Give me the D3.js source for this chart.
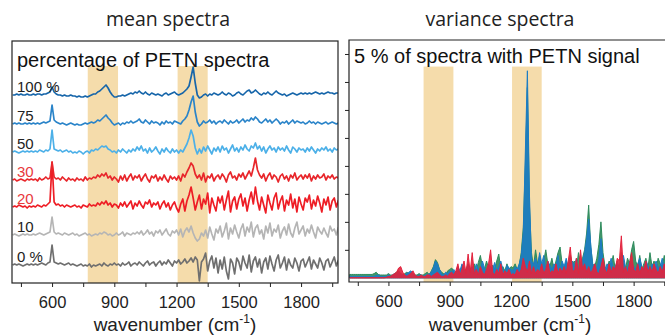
<!DOCTYPE html>
<html><head><meta charset="utf-8">
<script src="https://cdn.jsdelivr.net/npm/d3@7"></script>
<style>html,body{margin:0;padding:0;background:#fff;overflow:hidden}</style>
</head><body><svg id="chart" width="665" height="336"></svg>
<script>
// Raman wavenumber grid (cm-1), one sample every 10 cm-1
const wavenumbers = d3.range(410, 1981, 10);

// Mean spectra (intensity, arbitrary units) for each PETN percentage
const mean100 = [
  0,0,1,0,1,0,0,1,0,0,  1,0,1,1,0,1,1,2,3,8,  3,1,0,0,-1,0,-1,-1,0,-1,  -1,-2,-1,-2,-2,-1,-2,-1,0,1,
  1,3,4,6,8,10,7,3,0,-2,  -2,-1,-1,0,-1,0,1,2,1,3,  2,4,2,1,3,1,0,2,1,0,  1,0,-1,1,2,0,1,2,3,1,
  0,1,2,4,6,9,18,28,12,0,  -3,-2,0,1,-1,1,0,2,1,0,  1,3,1,0,2,1,-1,0,2,3,  1,0,2,4,5,2,3,5,3,1,
  0,2,1,3,1,0,2,4,2,1,  0,1,-1,0,1,2,1,0,1,2,  1,2,1,2,1,2,3,2,1,2,  1,2,3,2,2,1,2,2];
const mean75 = [
  0,1,0,1,0,0,1,0,1,0,  1,0,1,0,1,2,1,2,3,19,  4,2,1,0,1,0,-1,0,1,0,  -1,0,-1,-1,0,1,0,1,2,1,
  2,4,3,5,7,9,6,4,1,-1,  0,1,-1,1,0,2,1,3,1,2,  3,5,2,1,4,2,0,3,1,2,  1,-1,2,0,3,1,2,0,3,2,
  1,0,3,5,8,14,22,28,12,2,  -2,0,3,1,2,4,1,3,0,2,  3,1,4,2,0,3,1,2,4,1,  3,5,2,4,3,6,4,7,5,2,
  1,3,5,2,4,1,3,5,3,0,  2,1,3,0,2,4,1,3,2,1,  2,0,1,3,1,2,0,2,1,0,  1,2,0,1,2,1,0,1];
const mean50 = [
  0,1,0,-1,0,1,0,1,0,1,  0,1,0,2,1,0,2,1,3,22,  3,2,1,2,0,1,2,0,1,-1,  0,-1,1,0,-2,0,1,-1,2,1,
  3,2,4,6,5,6,3,2,0,1,  -1,2,0,3,1,-1,2,0,3,1,  5,2,6,1,3,-1,4,0,2,5,  1,-2,3,0,4,1,-1,3,0,2,
  -1,2,0,4,8,14,22,16,4,-2,  3,-1,5,1,6,2,-2,4,1,5,  0,6,2,4,-1,3,7,1,4,0,  5,2,7,3,1,6,4,9,3,6,
  1,5,-1,3,6,2,4,0,5,2,  4,1,6,2,-1,5,3,0,4,2,  3,0,4,1,5,2,-1,3,1,4,  2,5,1,3,0,4,2,3];
const mean30 = [
  0,1,-1,0,1,0,-1,1,0,1,  0,1,-1,2,0,1,3,1,2,18,  3,1,2,0,3,1,-1,2,0,1,  -1,2,0,1,-1,3,0,2,1,3,
  2,5,3,6,4,7,2,4,0,3,  1,-2,4,0,5,-1,3,6,0,4,  2,5,-1,3,6,1,-2,4,2,5,  -1,3,0,5,1,-2,4,1,3,0,
  4,-1,6,3,8,12,17,14,6,2,  5,0,7,-2,4,2,6,-1,3,5,  1,6,3,-2,5,8,2,4,0,6,  3,7,1,5,9,4,12,22,10,5,
  2,6,-1,4,7,1,5,3,-2,4,  6,1,4,-1,5,2,7,0,3,5,  1,5,2,6,-1,4,1,5,2,3,  6,0,4,2,5,1,3,2];
const mean20 = [
  0,1,0,2,1,0,1,-1,1,0,  1,0,2,1,0,2,1,3,5,45,  5,2,3,1,2,0,2,1,0,1,  2,0,1,-1,2,1,0,3,1,2,
  1,4,2,5,3,6,2,4,0,3,  2,-1,4,1,5,0,3,6,-2,4,  1,6,2,-1,5,3,7,0,4,2,  5,-2,3,6,0,4,-3,2,5,-1,
  -5,3,8,-4,6,12,20,9,-3,5,  12,-2,8,3,14,-6,9,2,-4,10,  4,11,-3,7,16,-5,6,10,-2,8,  13,1,9,-4,7,15,3,20,6,-3,
  10,2,-6,12,4,-3,9,14,-2,6,  11,-4,7,2,13,-1,8,-5,10,3,  -3,9,5,12,-2,7,1,11,4,-5,  8,2,10,-3,6,9,0,7];
const mean10 = [
  0,1,0,-1,0,1,0,1,0,0,  1,0,1,2,1,0,1,2,3,18,  3,1,2,1,0,2,1,0,1,2,  0,1,-1,0,1,2,0,1,-1,0,
  1,0,2,1,3,2,0,1,-1,0,  2,0,1,3,-1,2,1,0,2,1,  3,1,4,0,2,5,1,3,-1,4,  2,5,0,3,6,1,-1,4,2,5,
  0,6,-2,4,7,3,9,2,-3,-6,  -4,2,-1,5,-3,8,1,-5,6,2,  9,-2,4,12,-4,7,1,10,3,-3,  6,11,-1,8,3,13,-2,7,10,1,
  5,-4,9,2,12,-1,6,3,10,-3,  4,8,0,11,2,-2,7,13,1,5,  9,-1,6,2,10,3,-3,8,4,1,  7,2,-2,9,4,6,0,8];
const mean0 = [
  0,1,0,1,0,-1,0,1,0,1,  0,1,0,1,2,1,0,2,3,20,  3,2,1,2,1,0,1,2,0,1,  0,-1,0,1,-1,0,-1,1,-2,0,
  -1,0,1,-1,2,0,-1,1,0,2,  0,1,-1,2,0,1,3,-1,1,2,  0,3,1,-1,2,4,0,2,3,-1,  2,4,0,3,1,5,2,-1,4,2,
  5,1,3,6,2,4,7,3,8,5,  -16,3,6,12,-6,4,9,-3,7,-8,  5,-4,8,-6,-14,6,2,-9,7,3,  -5,9,2,-3,10,-7,4,8,-2,6,
  -8,3,7,-4,9,1,-6,5,10,-3,  2,8,-5,6,0,-3,7,2,-6,4,  6,-2,3,8,-4,5,1,-3,7,2,  -5,4,6,-2,3,8,-1,5];

const meanSeries = [mean100, mean75, mean50, mean30, mean20, mean10, mean0];
const meanLabels = ["100 %", "75", "50", "30", "20", "10", "0 %"];
// vertical stacking offset of each mean spectrum
const meanOffsets = [188, 159, 131, 103, 76, 48, 18];
const meanColors = ["#1766aa", "#2a84c9", "#4cb0e8", "#e8262b", "#ee1d25", "#b5b5b5", "#6f6f6f"];
const meanLabelColors = ["#222", "#222", "#222", "#e8383d", "#e8383d", "#222", "#222"];

// Variance spectra (arbitrary units), three principal traces
const varGreen = [
  .12,.12,.12,.12,.12,.12,.12,.12,.12,.12,  .12,.12,.15,.2,.12,.1,.1,.1,.1,.15,  .1,.1,.15,.2,.25,.15,.1,.15,.2,.15,  .2,.1,.1,.1,.15,.1,.1,.15,.2,.1,
  .25,.4,.65,.55,.3,.2,.15,.1,.25,.3,  .35,.2,.15,.3,.2,.4,.25,.3,.5,.2,  .3,.5,.25,.55,.8,.4,.3,.6,.35,.25,  .45,.3,.6,.85,.3,.4,.25,.5,.3,.4,
  .35,.5,.3,.45,.9,1.8,4.0,6.8,2.6,.9,  .4,1.0,.5,.8,.35,.6,1.0,.5,.4,.7,  .3,.6,.9,1.1,.5,.3,.6,.4,.8,.5,  .6,.3,.9,.5,.7,1.0,1.6,2.6,1.1,.5,
  .4,.7,1.2,2.0,.9,.4,.3,.6,.45,.8,  .3,.5,.4,.9,.6,.3,.7,.5,1.0,1.3,  .6,.4,.8,.3,.5,.7,.35,.9,.4,.6,  .3,.7,.5,.4,.8,.35,.6,.5];
const varBlue = [
  .05,.05,.05,.05,.05,.05,.05,.05,.05,.05,  .05,.05,.05,.08,.1,.05,.05,.05,.05,.1,  .05,.1,.15,.1,.2,.15,.1,.1,.15,.2,  .25,.15,.1,.05,.1,.1,.05,.1,.1,.15,
  .2,.35,.6,.5,.3,.15,.1,.2,.15,.25,  .2,.3,.15,.4,.25,.5,.3,.2,.45,.3,  .4,.2,.5,.3,.25,.6,.35,.2,.5,.4,  .3,.55,.25,.4,.6,.3,.2,.45,.35,.3,
  .25,.4,.3,.5,.8,1.6,4.5,7.4,3.0,.6,  .5,.7,.4,.9,.5,.8,.3,.6,.45,.3,  .5,.4,.8,.3,.6,.4,.7,.35,.5,.6,  .4,.7,.3,.5,.6,.9,1.4,2.1,1.2,.4,
  .5,.3,.7,1.4,.6,.3,.5,.4,.7,.35,  .4,.6,.3,.5,.8,.4,.3,.6,.5,.4,  .3,.5,.7,.4,.3,.6,.45,.3,.5,.4,  .6,.35,.4,.7,.3,.5,.6,.4];
const varRed = [
  0,0,0,0,0,0,0,0,0,0,  0,0,0,0,0,0,0,0,.02,.05,  .05,.1,.15,.2,.35,.4,.2,.1,.05,.1,  .15,.25,.1,.05,.05,.1,.05,.05,.1,.1,
  .05,.1,.15,.2,.1,.05,.05,.1,.05,.15,  .2,.1,.25,.5,.1,.3,.6,.15,.85,.2,  .9,.15,.3,.1,.4,.2,.1,.3,.5,1.0,  .2,.1,.3,.15,.5,.1,.25,.15,.3,.1,
  .15,.1,.3,.15,.3,.7,.4,.2,.6,.15,  .4,.15,.3,.2,.5,.15,.3,.6,.15,.25,  .2,.5,.15,.35,.2,.4,.15,.6,1.1,.3,  .2,.7,.15,1.0,.3,.5,.2,.4,.15,.3,
  .5,.2,.15,.4,.7,.3,.15,.5,.2,.4,  .3,.7,.6,1.5,.2,.4,.15,.5,.9,.3,  .2,.5,.15,.4,.3,.6,.2,.4,.2,.5,  .3,.15,.4,.2,.5,.15,.3,.2];
const varSeries = [varGreen, varBlue, varRed];
const varColors = ["#2e8b5c", "#1c7cc4", "#e2233d"];

// Highlighted PETN band regions (cm-1)
const petnBands = [[772, 918], [1205, 1350]];
const majorTicks = [600, 900, 1200, 1500, 1800];
const minorTicks = [450, 750, 1050, 1350, 1650, 1950];
const xDomain = [407, 1978];

const svg = d3.select("#chart");
const sans = "'Liberation Sans', Arial, sans-serif";

function drawXAxis(g, x, bottom) {
  g.append("g").attr("transform", `translate(0,${bottom})`)
    .call(d3.axisBottom(x).tickValues(majorTicks).tickSize(4).tickPadding(9).tickFormat(d3.format("d")))
    .call(a => a.select(".domain").remove())
    .call(a => a.selectAll("line").attr("stroke", "#222").attr("stroke-width", 1))
    .call(a => a.selectAll("text").attr("font-family", sans).attr("font-size", 16.5).attr("fill", "#222"));
  g.append("g").attr("transform", `translate(0,${bottom})`)
    .call(d3.axisBottom(x).tickValues(minorTicks).tickSize(4).tickFormat(""))
    .call(a => a.select(".domain").remove())
    .call(a => a.selectAll("line").attr("stroke", "#222").attr("stroke-width", 1));
}

function xLabel(g, cx) {
  const t = g.append("text").attr("x", cx).attr("y", 331).attr("text-anchor", "middle")
    .attr("font-family", sans).attr("font-size", 19).attr("fill", "#222");
  t.append("tspan").text("wavenumber (cm");
  t.append("tspan").attr("font-size", 12).attr("dy", -8).text("-1");
  t.append("tspan").attr("dy", 8).text(")");
}

/* ---------- mean spectra panel ---------- */
{
  const L = 12, R = 338, T = 41, B = 283;
  const x = d3.scaleLinear().domain(xDomain).range([L, R]);
  const y = d3.scaleLinear().domain([0, 242]).range([B, T]);
  const g = svg.append("g");
  g.append("clipPath").attr("id", "clipL").append("rect")
    .attr("x", L).attr("y", T).attr("width", R - L).attr("height", B - T);
  const plot = g.append("g").attr("clip-path", "url(#clipL)");

  plot.selectAll("rect.band").data(petnBands).join("rect").attr("class", "band")
    .attr("x", d => x(d[0])).attr("width", d => x(d[1]) - x(d[0]))
    .attr("y", y(217)).attr("height", y(0) - y(217)).attr("fill", "#f5dcab");

  const idx = d3.range(meanSeries.length).reverse();
  idx.forEach(i => {
    const line = d3.line().x((d, j) => x(wavenumbers[j])).y(d => y(meanOffsets[i] + d));
    plot.append("path").datum(meanSeries[i]).attr("d", line)
      .attr("fill", "none").attr("stroke", meanColors[i]).attr("stroke-width", 1.7)
      .attr("stroke-linejoin", "round");
  });

  g.selectAll("text.lvl").data(meanLabels).join("text").attr("class", "lvl")
    .attr("x", 17).attr("y", (d, i) => y(meanOffsets[i]) - 3)
    .attr("font-family", sans).attr("font-size", 15)
    .attr("fill", (d, i) => meanLabelColors[i]).text(d => d);

  g.append("rect").attr("x", L).attr("y", T).attr("width", R - L).attr("height", B - T)
    .attr("fill", "none").attr("stroke", "#222").attr("stroke-width", 1.2);

  g.append("text").attr("x", 17).attr("y", 67).attr("font-family", sans).attr("font-size", 20)
    .attr("fill", "#111").text("percentage of PETN spectra");

  drawXAxis(g, x, B);
  xLabel(g, (L + R) / 2);

  g.append("text").attr("x", 168).attr("y", 26).attr("text-anchor", "middle")
    .attr("font-family", "'Open Sans', sans-serif").attr("font-size", 19.5).attr("fill", "#222")
    .text("mean spectra");
}

/* ---------- variance spectra panel ---------- */
{
  const L = 349, R = 670, T = 40, B = 282;
  const x = d3.scaleLinear().domain(xDomain).range([L, R]);
  const y = d3.scaleLinear().domain([-0.15, 8.5]).range([B, T]);
  const g = svg.append("g");
  g.append("clipPath").attr("id", "clipR").append("rect")
    .attr("x", L).attr("y", T).attr("width", R - L).attr("height", B - T);
  const plot = g.append("g").attr("clip-path", "url(#clipR)");

  plot.selectAll("rect.band").data(petnBands).join("rect").attr("class", "band")
    .attr("x", d => x(d[0])).attr("width", d => x(d[1]) - x(d[0]))
    .attr("y", y(7.55)).attr("height", y(-0.15) - y(7.55)).attr("fill", "#f5dcab");

  varSeries.forEach((s, i) => {
    const area = d3.area().x((d, j) => x(wavenumbers[j])).y0(y(0)).y1(d => y(d));
    plot.append("path").datum(s).attr("d", area)
      .attr("fill", varColors[i]).attr("fill-opacity", 0.9)
      .attr("stroke", varColors[i]).attr("stroke-width", 1).attr("stroke-linejoin", "round");
  });

  g.append("g").attr("transform", `translate(${L},0)`)
    .call(d3.axisLeft(y).tickValues(d3.range(1, 9)).tickSize(4).tickFormat(""))
    .call(a => a.select(".domain").remove())
    .call(a => a.selectAll("line").attr("stroke", "#222"));

  g.append("path").attr("d", `M${R},${T}H${L}V${B}H${R}`)
    .attr("fill", "none").attr("stroke", "#222").attr("stroke-width", 1.2);

  g.append("text").attr("x", 354).attr("y", 63).attr("font-family", sans).attr("font-size", 20)
    .attr("fill", "#111").text("5 % of spectra with PETN signal");

  drawXAxis(g, x, B);
  xLabel(g, 510);

  g.append("text").attr("x", 500).attr("y", 26).attr("text-anchor", "middle")
    .attr("font-family", "'Open Sans', sans-serif").attr("font-size", 19.5).attr("fill", "#222")
    .text("variance spectra");
}
</script></body></html>
